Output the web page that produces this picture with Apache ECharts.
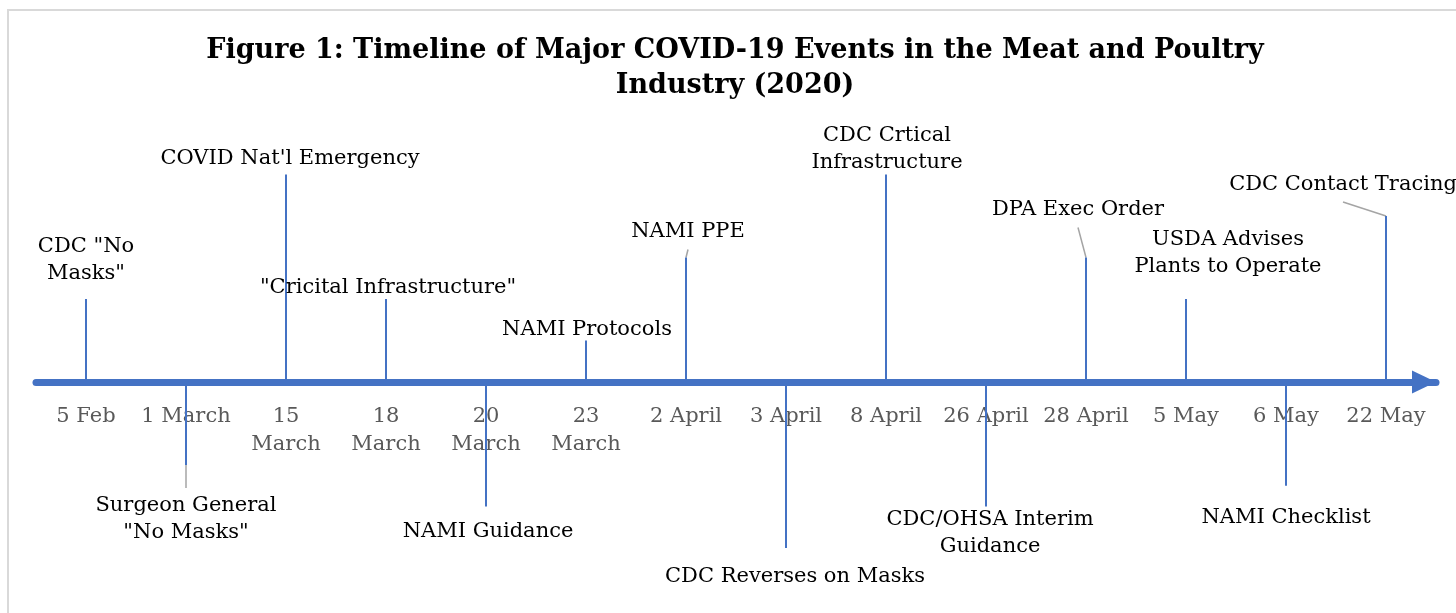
<!DOCTYPE html>
<html>
<head>
<meta charset="utf-8">
<title>COVID-19 timeline</title>
<script src="https://cdn.jsdelivr.net/npm/echarts@6/dist/echarts.min.js"></script>
<style>
html, body { margin: 0; padding: 0; background: #fff; }
#timeline_chart { width: 1456px; height: 613px; }
</style>
</head>
<body>
<div id="timeline_chart"></div>
<script>
// dates along the axis (tick labels)
const dates = ["5 Feb", "1 March", "15\nMarch", "18\nMarch", "20\nMarch", "23\nMarch", "2 April",
    "3 April", "8 April", "26 April", "28 April", "5 May", "6 May", "22 May"];
// event on each date
const events = ['CDC "No\nMasks"', 'Surgeon General\n"No Masks"', "COVID Nat'l Emergency",
    '"Cricital Infrastructure"', "NAMI Guidance", "NAMI Protocols", "NAMI PPE",
    "CDC Reverses on Masks", "CDC Crtical\nInfrastructure", "CDC/OHSA Interim\nGuidance",
    "DPA Exec Order", "USDA Advises\nPlants to Operate", "NAMI Checklist", "CDC Contact Tracing"];
// how far each marker reaches above (+) or below (-) the axis
const heights = [2, -2, 5, 2, -3, 1, 3, -4, 5, -3, 3, 2, -2.5, 4];

// label placement: [gap from line end, x shift, leader line]
const labelPlace = [
    [12, 0, false], [27, 0, true], [2, 4, false], [-2, 2, false], [12, 2, false],
    [-3, 1, false], [12, 2, true], [15, 9, false], [-2, 1, false], [0, 4, false],
    [34, -8, true], [19, 42, false], [18, 0, false], [18, -43, true]
];

const font = "DejaVu Serif";
const blue = "#4472C4";

// grid: zero of the value axis sits at y = 382
const gridTop = 133;
const gridBottom = 23.5;
const axisY = 382;

let barData = heights.map(function(h, i) {
    let p = labelPlace[i];
    return {
        value: h,
        label: {
            position: h >= 0 ? "top" : "bottom",
            distance: p[0],
            offset: [p[1], 0]
        }
    };
});

let leaderData = [];
heights.forEach(function(h, i) {
    if (labelPlace[i][2]) {
        leaderData.push([i, h]);
    }
});

let timeline_chart = echarts.init(document.getElementById("timeline_chart"));
timeline_chart.setOption({
    animation: false,
    title: {
        text: "Figure 1: Timeline of Major COVID-19 Events in the Meat and Poultry\nIndustry (2020)",
        left: 735,
        top: 33,
        textAlign: "center",
        padding: 0,
        textStyle: {
            fontFamily: font,
            fontSize: 27,
            fontWeight: "bold",
            color: "#000",
            lineHeight: 35
        }
    },
    graphic: [{
        type: "rect",
        silent: true,
        shape: { x: 8, y: 10, width: 1480, height: 650 },
        style: { fill: "none", stroke: "#d9d9d9", lineWidth: 2 }
    }],
    grid: {
        left: 36,
        right: 20,
        top: gridTop,
        bottom: gridBottom,
        outerBoundsMode: "none"
    },
    xAxis: {
        type: "category",
        data: dates,
        position: "bottom",
        offset: -(613 - gridBottom - axisY),
        axisLine: {
            onZero: false,
            symbol: ["none", "triangle"],
            symbolSize: [23, 24],
            symbolOffset: [0, -12],
            lineStyle: { color: blue, width: 7 }
        },
        axisTick: { show: false },
        splitLine: { show: false },
        axisLabel: {
            interval: 0,
            margin: 21,
            color: "#595959",
            fontFamily: font,
            fontSize: 21,
            lineHeight: 28
        }
    },
    yAxis: {
        type: "value",
        min: -5,
        max: 6,
        show: false
    },
    series: [
        {
            type: "bar",
            data: barData,
            barWidth: 2,
            itemStyle: { color: blue },
            label: {
                show: true,
                formatter: function(p) {
                    return events[p.dataIndex];
                },
                color: "#000",
                fontFamily: font,
                fontSize: 21,
                lineHeight: 27
            }
        },
        {
            // grey leader lines from line end to the moved labels
            type: "custom",
            data: leaderData,
            silent: true,
            renderItem: function(params, api) {
                let i = api.value(0);
                let h = api.value(1);
                let p = labelPlace[i];
                let start = api.coord([i, h]);
                let dir = h >= 0 ? -1 : 1;
                let end = [start[0] + p[1], start[1] + dir * (p[0] - 4)];
                return {
                    type: "line",
                    shape: { x1: start[0], y1: start[1], x2: end[0], y2: end[1] },
                    style: { stroke: "#a5a5a5", lineWidth: 1.5 }
                };
            }
        }
    ]
});
</script>
</body>
</html>
